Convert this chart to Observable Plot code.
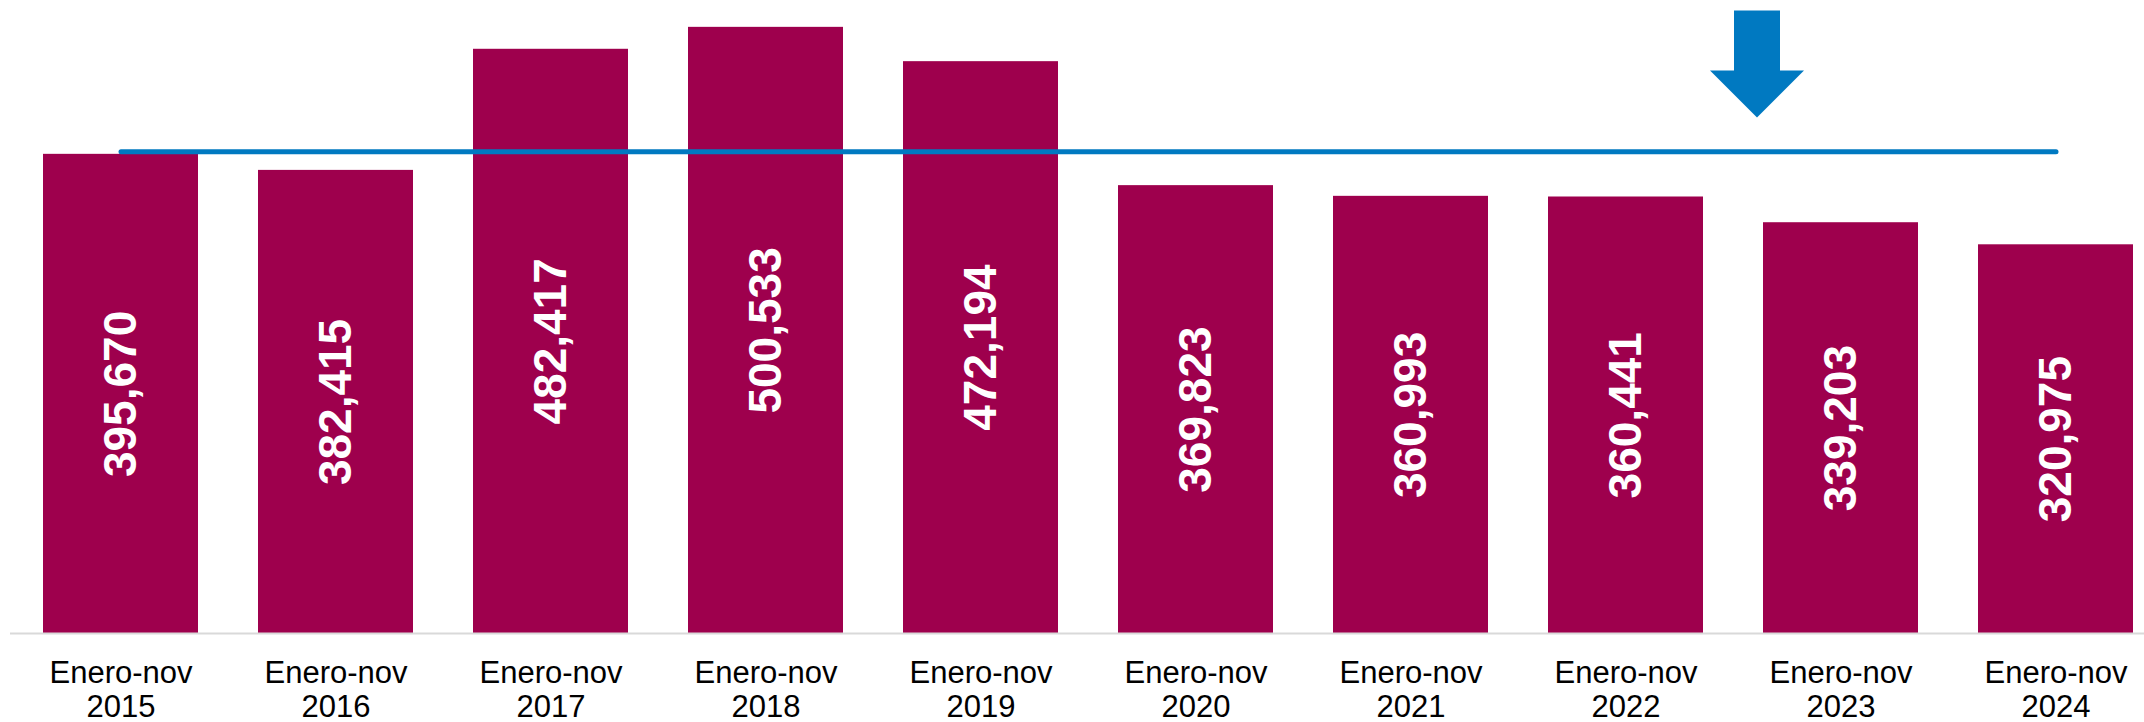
<!DOCTYPE html>
<html>
<head>
<meta charset="utf-8">
<script src="https://cdn.jsdelivr.net/npm/d3@7"></script>
<script src="https://cdn.jsdelivr.net/npm/@observablehq/plot@0.6"></script>
<style>
  html, body { margin: 0; padding: 0; background: #ffffff; }
  #chart { width: 2144px; height: 722px; overflow: hidden; }
</style>
</head>
<body>
<div id="chart"></div>
<script>
// Categories (x axis)
const periods = [
  "Enero-nov 2015", "Enero-nov 2016", "Enero-nov 2017", "Enero-nov 2018", "Enero-nov 2019",
  "Enero-nov 2020", "Enero-nov 2021", "Enero-nov 2022", "Enero-nov 2023", "Enero-nov 2024"
];
// Series values
const values = [395670, 382415, 482417, 500533, 472194, 369823, 360993, 360441, 339203, 320975];
// Reference level line (2015 level), spanning first to last period
const referencePeriods = [periods[0], periods[periods.length - 1]];
const referenceValue = values[0];
// Down-arrow annotation anchor
const arrowPeriod = "Enero-nov 2023";
const arrowTipValue = 426000;

const data = periods.map((p, i) => ({period: p, value: values[i]}));
const refData = referencePeriods.map(p => ({period: p, value: referenceValue}));

const BAR = "#9E004D";
const BLUE = "#0079C1";

// arrow shape, tip at origin
const arrowSymbol = {
  draw(ctx) {
    ctx.moveTo(-23, -107);
    ctx.lineTo(23, -107);
    ctx.lineTo(23, -47);
    ctx.lineTo(47, -47);
    ctx.lineTo(0, 0);
    ctx.lineTo(-47, -47);
    ctx.lineTo(-23, -47);
    ctx.closePath();
  }
};

const fmt = d3.format(",");

const chart = Plot.plot({
  width: 2144,
  height: 722,
  marginTop: 0,
  marginBottom: 89,
  marginLeft: 10,
  marginRight: 0,
  style: {fontFamily: "'Liberation Sans', Arial, sans-serif", background: "#ffffff", color: "#000000"},
  x: {domain: periods, range: [40, 2136], paddingInner: 0.28, paddingOuter: 0, label: null},
  y: {domain: [0, 522700], axis: null},
  marks: [
    Plot.barY(data, {x: "period", y: "value", fill: BAR}),
    Plot.ruleY([0], {stroke: "#d9d9d9", strokeWidth: 2}),
    Plot.text(data, {
      x: "period", y: d => d.value / 2, text: d => fmt(d.value),
      rotate: -90, fill: "#ffffff", fontSize: 46, fontWeight: "bold"
    }),
    Plot.line(refData, {
      x: "period", y: "value", stroke: BLUE, strokeWidth: 5,
      strokeLinecap: "round", dy: -2.5
    }),
    Plot.dot([{period: arrowPeriod, value: arrowTipValue}], {
      x: "period", y: "value", symbol: arrowSymbol, fill: BLUE, stroke: "none", dx: -84
    }),
    Plot.axisX({
      tickSize: 0, tickPadding: 25, fontSize: 31, fill: "#000000", lineHeight: 1.1,
      tickFormat: d => d.replace(" ", "\n"), label: null
    })
  ]
});
document.getElementById("chart").appendChild(chart);
</script>
</body>
</html>
